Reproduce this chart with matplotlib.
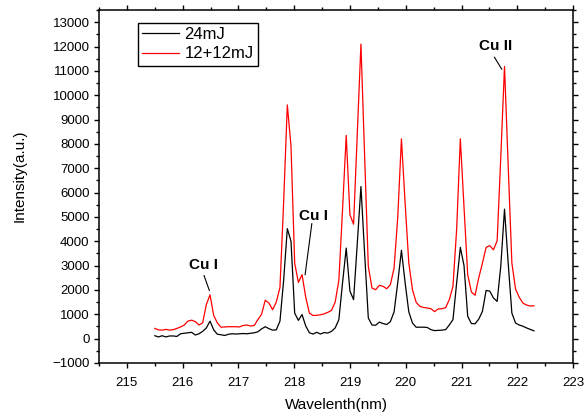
import numpy as np
import matplotlib
matplotlib.use('Agg')
import matplotlib.pyplot as plt
from matplotlib.ticker import MultipleLocator

plt.rcParams['font.family'] = ['Liberation Sans', 'DejaVu Sans']

# wavelength grid (nm)
wavelength = [
    215.500, 215.566, 215.632, 215.698, 215.764, 215.830, 215.896, 215.962,
    216.028, 216.094, 216.160, 216.226, 216.292, 216.358, 216.424, 216.490,
    216.556, 216.622, 216.688, 216.754, 216.820, 216.886, 216.952, 217.018,
    217.084, 217.150, 217.216, 217.282, 217.348, 217.414, 217.480, 217.546,
    217.612, 217.678, 217.744, 217.810, 217.876, 217.942, 218.008, 218.074,
    218.140, 218.206, 218.272, 218.338, 218.404, 218.470, 218.536, 218.602,
    218.668, 218.734, 218.800, 218.866, 218.932, 218.998, 219.064, 219.130,
    219.196, 219.262, 219.328, 219.394, 219.460, 219.526, 219.592, 219.658,
    219.724, 219.790, 219.856, 219.922, 219.988, 220.054, 220.120, 220.186,
    220.252, 220.318, 220.384, 220.450, 220.516, 220.582, 220.648, 220.714,
    220.780, 220.846, 220.912, 220.978, 221.044, 221.110, 221.176, 221.242,
    221.308, 221.374, 221.440, 221.506, 221.572, 221.638, 221.704, 221.770,
    221.836, 221.902, 221.968, 222.034, 222.100, 222.166, 222.232, 222.298,
]

single_24mJ = [
    120, 70, 120, 70, 110, 110, 90, 200, 220, 240, 260, 150, 200, 300, 440, 720,
    360, 180, 160, 130, 180, 200, 190, 200, 210, 200, 220, 240, 280, 400, 490, 410,
    350, 360, 720, 2400, 4520, 4000, 1050, 750, 990, 520, 240, 190, 260, 190,
    250, 230, 300, 440, 780, 2290, 3720, 1960, 1600, 3900, 6250, 3500, 850, 560,
    550, 680, 620, 580, 700, 1100, 2300, 3630, 2300, 1100, 640, 470, 470, 470,
    460, 370, 330, 340, 350, 370, 560, 780, 2290, 3750, 3000, 920, 620, 610,
    800, 1120, 1980, 1950, 1670, 1530, 3000, 5320, 3100, 1050, 640, 560, 510, 440,
    380, 320,
]

double_12_12mJ = [
    420, 360, 350, 380, 350, 370, 420, 480, 560, 720, 760, 700, 560, 650, 1400, 1800,
    950, 640, 470, 480, 490, 490, 490, 480, 540, 560, 520, 540, 780, 1000, 1580, 1460,
    1190, 1500, 2100, 5600, 9600, 7900, 3100, 2310, 2630, 1700, 1050, 950, 960, 980,
    1020, 1080, 1160, 1500, 2400, 5300, 8350, 5090, 4700, 8400, 12100, 7500, 2970, 2080,
    2010, 2190, 2150, 2050, 2220, 2900, 5000, 8210, 5570, 3110, 2010, 1490, 1330, 1280,
    1260, 1230, 1110, 1220, 1230, 1270, 1600, 2150, 4500, 8210, 5400, 2630, 1920, 1780,
    2500, 3100, 3750, 3820, 3650, 4020, 7500, 11180, 7100, 3110, 2040, 1700, 1460, 1380,
    1340, 1350,
]

# annotations: text, text position, leader line start/end
labels = ['Cu I', 'Cu I', 'Cu II']
label_pos = [(216.38, 3040), (218.35, 5050), (221.61, 12030)]
leader_from = [(216.383, 2590), (218.315, 4720), (221.59, 11560)]
leader_to = [(216.478, 1980), (218.195, 2630), (221.72, 11070)]

fig = plt.figure(figsize=(5.86, 4.18), dpi=100)
ax = fig.add_axes([0.169, 0.1316, 0.809, 0.8445])

ax.plot(wavelength, single_24mJ, color='black', lw=0.9, label='24mJ')
ax.plot(wavelength, double_12_12mJ, color='red', lw=0.9, label='12+12mJ')

for txt, p, a, b in zip(labels, label_pos, leader_from, leader_to):
    ax.text(p[0], p[1], txt, ha='center', va='center', fontsize=11, fontweight='bold')
    ax.plot([a[0], b[0]], [a[1], b[1]], color='black', lw=0.8)

ax.set_xlim(214.5, 223)
ax.set_ylim(-1000, 13500)
ax.xaxis.set_major_locator(MultipleLocator(1))
ax.xaxis.set_minor_locator(MultipleLocator(0.5))
ax.yaxis.set_major_locator(MultipleLocator(1000))
ax.yaxis.set_minor_locator(MultipleLocator(500))

for s in ax.spines.values():
    s.set_linewidth(1.1)
ax.tick_params(which='both', direction='out', top=True, right=True, width=1.0,
               labelsize=9.5, pad=3)
ax.tick_params(axis='x', which='major', pad=6)
ax.tick_params(which='major', length=3.8)
ax.tick_params(which='minor', length=2.2)

ax.set_xlabel('Wavelenth(nm)', fontsize=11)
ax.set_ylabel('Intensity(a.u.)', fontsize=11)
ax.xaxis.set_label_coords(0.5, -0.1)
ax.yaxis.set_label_coords(-0.152, 0.53)

leg = ax.legend(loc='upper left', bbox_to_anchor=(0.082, 0.963), borderaxespad=0,
                fontsize=12, handlelength=2.2, handletextpad=0.35, labelspacing=0.25,
                borderpad=0.25, fancybox=False, framealpha=1)
leg.get_frame().set_edgecolor('black')
leg.get_frame().set_linewidth(1.0)

plt.savefig('out.png', dpi=100)
